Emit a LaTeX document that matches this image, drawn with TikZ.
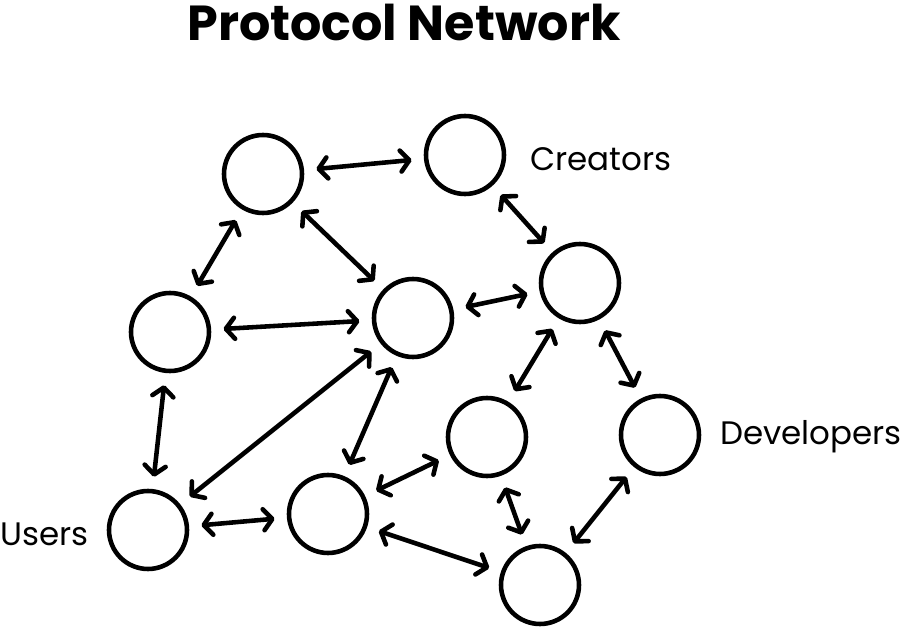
\documentclass[tikz,border=0pt]{standalone}
\usepackage{fontspec}
\setmainfont{Poppins}
\usetikzlibrary{arrows.meta}

\tikzset{
  agent/.style={circle, draw, line width=2.6pt, minimum size=1.56cm, inner sep=0pt},
  link/.style={line width=2.6pt, {Straight Barb[length=5pt,width=12pt,round]}-{Straight Barb[length=5pt,width=12pt,round]}, shorten <=7pt, shorten >=7pt},
  role/.style={font=\fontsize{18.5}{20}\selectfont, anchor=west, inner sep=0pt}
}

\begin{document}
\begin{tikzpicture}[x=0.02cm, y=-0.02cm]

  \useasboundingbox (0,0) rectangle (900,628);

  \node (title) at (404,22) {\fontsize{28}{32}\selectfont\bfseries Protocol Network};

  \node (A) [agent] at (263,174) {};
  \node (B) [agent] at (465,155) {};
  \node (C) [agent] at (580,283) {};
  \node (D) [agent] at (170,332) {};
  \node (E) [agent] at (413,318) {};
  \node (F) [agent] at (487,437) {};
  \node (G) [agent] at (660,435) {};
  \node (H) [agent] at (148,530) {};
  \node (I) [agent] at (328,514) {};
  \node (J) [agent] at (540,585) {};

  \node (creators) [role] at (530,159) {Creators};
  \node (developers) [role] at (720,437) {Developers};
  \node (users) [role] at (0,534) {Users};

  \draw[link] (A) -- (B);
  \draw[link] (B) -- (C);
  \draw[link] (A) -- (D);
  \draw[link] (A) -- (E);
  \draw[link] (D) -- (E);
  \draw[link] (E) -- (C);
  \draw[link] (C) -- (F);
  \draw[link] (C) -- (G);
  \draw[link] (D) -- (H);
  \draw[link] (E) -- (H);
  \draw[link] (E) -- (I);
  \draw[link] (F) -- (I);
  \draw[link] (F) -- (J);
  \draw[link] (G) -- (J);
  \draw[link] (H) -- (I);
  \draw[link] (I) -- (J);

\end{tikzpicture}
\end{document}
